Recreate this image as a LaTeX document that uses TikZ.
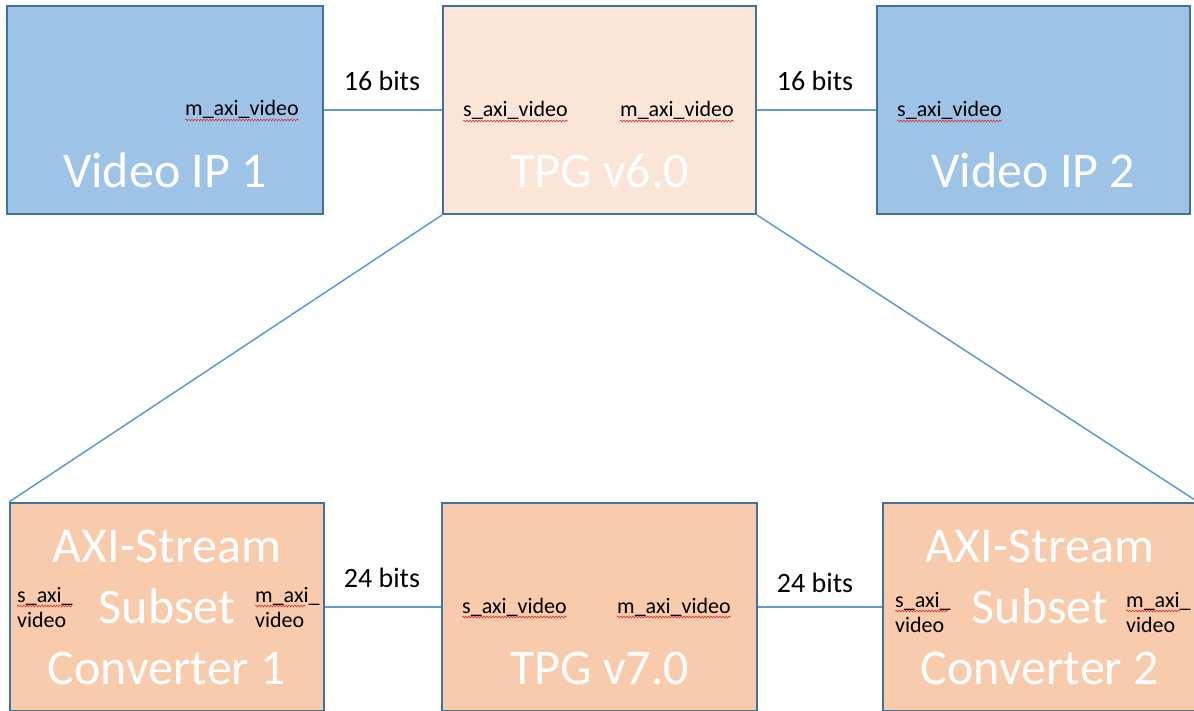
\documentclass[tikz,border=0pt]{standalone}
\usepackage{fontspec}
\setmainfont{Carlito}
\usetikzlibrary{decorations.pathmorphing}
\definecolor{ipblue}{HTML}{9DC3E6}
\definecolor{bord}{HTML}{41719C}
\definecolor{peachlt}{HTML}{FBE5D6}
\definecolor{peach}{HTML}{F8CBAD}
\definecolor{wire}{HTML}{5B9BD5}
\definecolor{squigred}{HTML}{E03030}
\tikzset{
  blk/.style={draw=bord, line width=2pt, minimum width=313pt, minimum height=208pt, inner sep=0pt},
  big/.style={text=white, font=\fontsize{50}{61}\selectfont, inner sep=0pt},
  port/.style={text=black, font=\fontsize{22}{25}\selectfont, inner sep=0pt},
  bits/.style={text=black, font=\fontsize{28}{30}\selectfont, inner sep=0pt},
  wireline/.style={draw=wire, line width=1.5pt},
  squig/.style={draw=squigred, line width=0.6pt, decorate, decoration={snake, amplitude=0.9pt, segment length=3pt}}
}
\begin{document}
\begin{tikzpicture}[x=1pt,y=-1pt]
\useasboundingbox (0,0) rectangle (1194,711);
\clip (0,0) rectangle (1194,711);
\fill[white] (0,0) rectangle (1194,711);
% boxes
\node[blk, fill=ipblue, minimum width=316pt] (ip1) at (165,110) {};
\node[blk, fill=peachlt] (tpg6) at (599.5,110) {};
\node[blk, fill=ipblue] (ip2) at (1033.5,110) {};
\node[blk, fill=peach, minimum width=314pt] (ssc1) at (167,607) {};
\node[blk, fill=peach, minimum width=315pt] (tpg7) at (599.5,607) {};
\node[blk, fill=peach, minimum width=314pt] (ssc2) at (1040,607) {};
% connectors
\draw[wireline] (ip1) -- (tpg6);
\draw[wireline] (tpg6) -- (ip2);
\draw[wireline] (ssc1) -- (tpg7);
\draw[wireline] (tpg7) -- (ssc2);
\draw[wireline] (tpg6.south west) -- (ssc1.north west);
\draw[wireline] (tpg6.south east) -- (ssc2.north east);
% big labels
\node[big, anchor=base] (t1) at (165,188) {Video IP 1};
\node[big, anchor=base] (t2) at (599.5,188) {TPG v6.0};
\node[big, anchor=base] (t3) at (1033.5,188) {Video IP 2};
\node[big, anchor=base] (t4) at (599.5,684) {TPG v7.0};
\node[big, align=center, anchor=base] (t5) at (167,684) {AXI-Stream\\Subset\\Converter 1};
\node[big, align=center, anchor=base] (t6) at (1040,684) {AXI-Stream\\Subset\\Converter 2};
% bit labels
\node[bits, anchor=base] (b1) at (382,91) {16 bits};
\node[bits, anchor=base] (b2) at (815,91) {16 bits};
\node[bits, anchor=base] (b3) at (382,587) {24 bits};
\node[bits, anchor=base] (b4) at (815,592) {24 bits};
% port labels
\node[port, anchor=base west] (p1) at (185,116) {m\_axi\_video};
\node[port, anchor=base west] (p2) at (463,117) {s\_axi\_video};
\node[port, anchor=base west] (p3) at (620,117) {m\_axi\_video};
\node[port, anchor=base west] (p4) at (897,117) {s\_axi\_video};
\node[port, anchor=base west] (p5) at (462,613) {s\_axi\_video};
\node[port, anchor=base west] (p6) at (617,613) {m\_axi\_video};
\node[port, anchor=base west, align=left] (p7) at (17,627) {s\_axi\_\\video};
\node[port, anchor=base west, align=left] (p8) at (255,627) {m\_axi\_\\video};
\node[port, anchor=base west, align=left] (p9) at (895,632) {s\_axi\_\\video};
\node[port, anchor=base west, align=left] (p10) at (1126,632) {m\_axi\_\\video};
% spell-check squiggles
\foreach \n in {p1,p2,p3,p4,p5,p6}{
  \draw[squig] ([yshift=-4pt]\n.base west) -- ([yshift=-4pt]\n.base east);
}
\draw[squig] (17,606) -- (72,606);
\draw[squig] (255,606) -- (305,606);
\draw[squig] (895,611) -- (948,611);
\draw[squig] (1126,611) -- (1180,611);
\end{tikzpicture}
\end{document}
